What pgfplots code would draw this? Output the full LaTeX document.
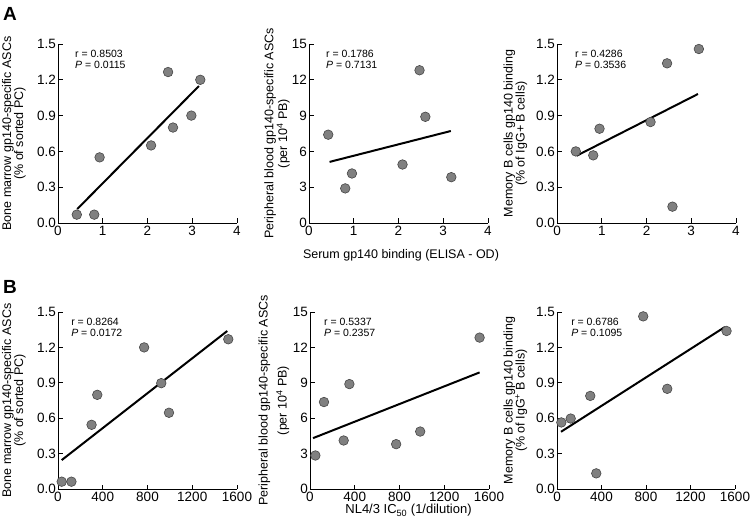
\documentclass[border=0pt]{standalone}
\usepackage{pgfplots}
\pgfplotsset{compat=1.18}
\usepackage{fontspec}
\setmainfont{Liberation Sans}
\definecolor{mkfill}{RGB}{128,128,128}
\definecolor{mkedge}{RGB}{70,70,70}
\pgfplotsset{
 panel/.style={
  scale only axis, width=179pt, height=179pt, anchor=south west,
  axis x line*=bottom, axis y line*=left,
  axis line style={line width=0.9pt,-,black},
  every tick/.style={line width=0.9pt,black},
  tick align=inside, major tick length=4.5pt,
  clip=false,
  tick label style={font=\fontsize{13.5}{15}\selectfont},
  /pgf/number format/assume math mode=true,
  yticklabel style={inner xsep=2pt},
  xticklabel style={inner ysep=1pt, yshift=-2pt},
  scaled ticks=false,
 },
 pa/.style={panel, xmin=0, xmax=4, xtick={0,1,2,3,4}},
 pb/.style={panel, height=177pt, xmin=0, xmax=1600, xtick={0,400,800,1200,1600},
   /pgf/number format/1000 sep={}},
 frac/.style={ymin=0, ymax=1.5, ytick={0,0.3,0.6,0.9,1.2,1.5},
   yticklabel style={/pgf/number format/fixed,/pgf/number format/fixed zerofill,/pgf/number format/precision=1}},
 cnt/.style={ymin=0, ymax=15, ytick={0,3,6,9,12,15}},
 pts/.style={only marks, mark=*, mark size=4.8pt, mark options={fill=mkfill, draw=mkedge, line width=0.6pt}},
 fit/.style={no marks, line width=2pt, black},
}
\newcommand{\ann}[3]{\node[anchor=north west, inner sep=0, align=left, font=\fontsize{10.5}{11}\selectfont] at (rel axis cs:#1,0.965) {r = #2\\\textit{P} = #3};}
\newcommand{\ylab}[3]{\node[rotate=90, align=center, font=\fontsize{12.5}{#3}\selectfont] at ([xshift=#1]rel axis cs:0,0.5) {#2};}
\begin{document}
\begin{tikzpicture}
\useasboundingbox (0,0) rectangle (750pt,528pt);
\node[anchor=north west, inner sep=0, font=\bfseries\fontsize{19}{19}\selectfont] at (3pt,521pt) {A};
\node[anchor=north west, inner sep=0, font=\bfseries\fontsize{19}{19}\selectfont] at (3pt,248pt) {B};
% A1
\begin{axis}[pa, frac, at={(58pt,305pt)}]
\addplot[fit] coordinates {(0.43,0.117) (3.15,1.148)};
\addplot[pts] coordinates {(0.42,0.07) (0.81,0.07) (0.93,0.55) (2.08,0.65) (2.46,1.265) (2.57,0.80) (2.98,0.90) (3.18,1.20)};
\ann{0.095}{0.8503}{0.0115}
\ylab{-44pt}{Bone marrow gp140-specific ASCs\\(\% of sorted PC)}{12}
\end{axis}
% A2
\begin{axis}[pa, cnt, at={(309pt,305pt)}]
\addplot[fit] coordinates {(0.46,5.12) (3.17,7.71)};
\addplot[pts] coordinates {(0.43,7.4) (0.81,2.9) (0.96,4.15) (2.09,4.9) (2.47,12.8) (2.60,8.9) (3.18,3.84)};
\ann{0.095}{0.1786}{0.7131}
\ylab{-32pt}{Peripheral blood gp140-specific ASCs\\(per 10\textsuperscript{4} PB)}{12.5}
\node[inner sep=0, font=\fontsize{12.5}{14}\selectfont] at ([xshift=2.5pt,yshift=-32pt]rel axis cs:0.5,0) {Serum gp140 binding (ELISA - OD)};
\end{axis}
% A3
\begin{axis}[pa, frac, at={(557pt,305pt)}]
\addplot[fit] coordinates {(0.44,0.564) (3.15,1.081)};
\addplot[pts] coordinates {(0.42,0.60) (0.81,0.567) (0.95,0.79) (2.09,0.846) (2.46,1.338) (2.58,0.137) (3.17,1.458)};
\ann{0.10}{0.4286}{0.3536}
\ylab{-41.5pt}{Memory B cells gp140 binding\\(\% of IgG+ B cells)}{12}
\end{axis}
% B1
\begin{axis}[pb, frac, at={(58pt,39pt)}]
\addplot[fit] coordinates {(33,0.245) (1513,1.339)};
\addplot[pts] coordinates {(33,0.062) (120,0.062) (300,0.544) (351,0.798) (770,1.20) (923,0.897) (992,0.646) (1522,1.269)};
\ann{0.073}{0.8264}{0.0172}
\ylab{-44pt}{Bone marrow gp140-specific ASCs\\(\% of sorted PC)}{12}
\end{axis}
% B2
\begin{axis}[pb, cnt, at={(310pt,39pt)}]
\addplot[fit] coordinates {(27,4.31) (1516,9.88)};
\addplot[pts] coordinates {(48,2.84) (125,7.37) (301,4.11) (352,8.89) (770,3.80) (985,4.87) (1516,12.83)};
\ann{0.078}{0.5337}{0.2357}
\ylab{-36pt}{Peripheral blood gp140-specific ASCs\\(per 10\textsuperscript{4} PB)}{19}
\node[inner sep=0, font=\fontsize{13}{14}\selectfont] at ([xshift=9pt,yshift=-21.5pt]rel axis cs:0.5,0) {NL4/3 IC\textsubscript{50} (1/dilution)};
\end{axis}
% B3
\begin{axis}[pb, frac, at={(557pt,39pt)}, width=178pt]
\addplot[fit] coordinates {(36,0.485) (1509,1.373)};
\addplot[pts] coordinates {(39,0.564) (123,0.597) (299,0.789) (353,0.1325) (775,1.463) (991,0.849) (1524,1.339)};
\ann{0.079}{0.6786}{0.1095}
\ylab{-41.5pt}{Memory B cells gp140 binding\\(\% of IgG\textsuperscript{+} B cells)}{12}
\end{axis}
\end{tikzpicture}
\end{document}
